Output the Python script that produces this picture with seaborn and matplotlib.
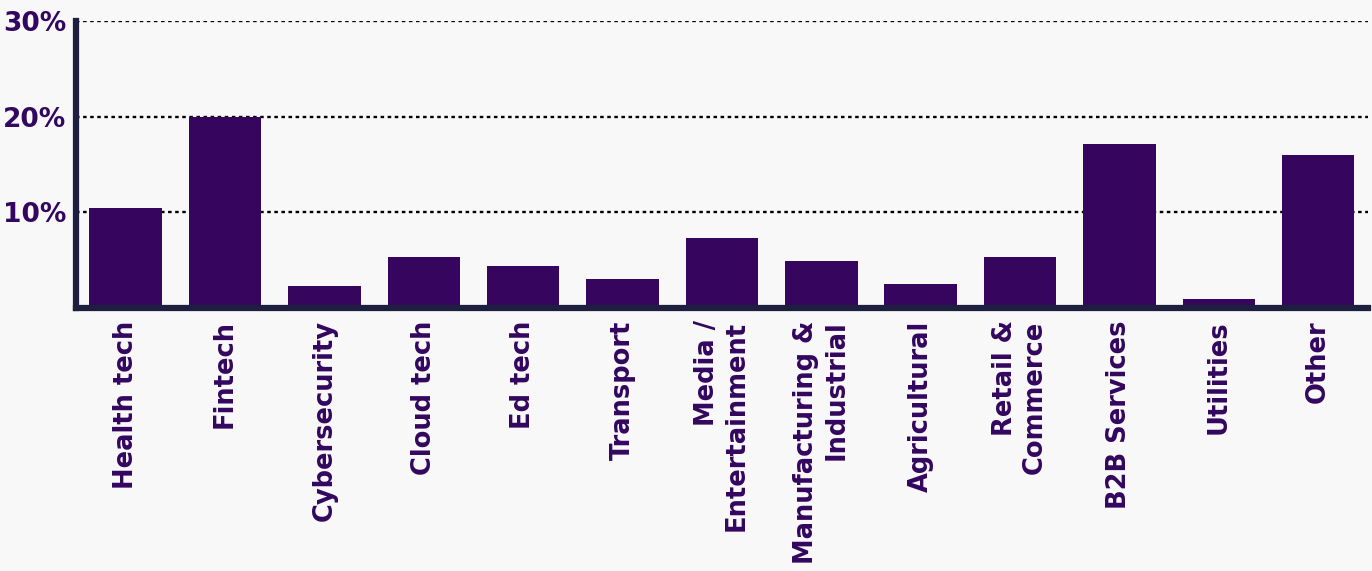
import matplotlib
matplotlib.use("Agg")
import matplotlib.pyplot as plt
import seaborn as sns
import pandas as pd

categories = [
    "Health tech", "Fintech", "Cybersecurity", "Cloud tech", "Ed tech",
    "Transport", "Media /\nEntertainment", "Manufacturing &\nIndustrial",
    "Agricultural", "Retail &\nCommerce", "B2B Services", "Utilities", "Other",
]
shares = [10.5, 20.0, 2.3, 5.3, 4.4, 3.0, 7.3, 4.9, 2.5, 5.3, 17.1, 0.9, 16.0]
y_ticks = [10, 20, 30]
y_tick_labels = ["10%", "20%", "30%"]

BG = "#f8f8f8"
BAR = "#36065f"
TEXT = "#33065f"
SPINE = "#1e1f3f"

sns.set_theme(style="white")
plt.rcParams["font.family"] = ["DejaVu Sans"]

df = pd.DataFrame({"sector": categories, "share": shares})

fig = plt.figure(figsize=(13.72, 5.71), dpi=100, facecolor=BG)
ax = fig.add_axes([0.0554, 0.4606, 0.9416, 0.5024])
ax.set_facecolor(BG)

sns.barplot(data=df, x="sector", y="share", color=BAR, width=0.73,
            saturation=1, linewidth=0, edgecolor=BAR, ax=ax, zorder=3)

ax.set_ylim(0, 30)
ax.set_xlim(-0.5, len(categories) - 0.5)
ax.set_yticks(y_ticks)
ax.set_yticklabels(y_tick_labels)
for y in y_ticks:
    ax.axhline(y, color="black", linestyle=(0, (1.5, 1.5)), linewidth=1.7, zorder=1)

ax.set_xlabel("")
ax.set_ylabel("")
ax.tick_params(axis="both", length=0, colors=TEXT)
ax.tick_params(axis="y", pad=7, labelsize=19)
ax.tick_params(axis="x", pad=9, labelsize=18.5)
for lab in ax.get_yticklabels():
    lab.set_fontweight("bold")
for lab in ax.get_xticklabels():
    lab.set_rotation(90)
    lab.set_fontweight("bold")
    lab.set_ha("center")
    lab.set_va("top")
    lab.set_multialignment("right")

for side in ["top", "right"]:
    ax.spines[side].set_visible(False)
for side in ["left", "bottom"]:
    ax.spines[side].set_color(SPINE)
    ax.spines[side].set_linewidth(4.5)
    ax.spines[side].set_zorder(4)

fig.savefig("out.png", dpi=100, facecolor=BG)
